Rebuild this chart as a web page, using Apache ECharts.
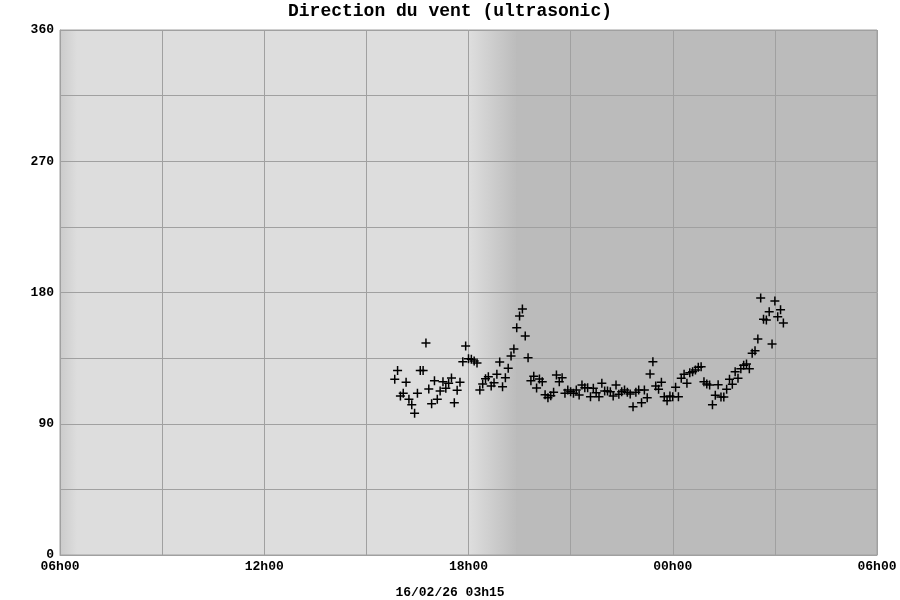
<!DOCTYPE html>
<html>
<head>
<meta charset="utf-8">
<script src="https://cdn.jsdelivr.net/npm/echarts@6/dist/echarts.min.js"></script>
<style>html,body{margin:0;padding:0;background:#fff}#c{width:900px;height:600px}</style>
</head>
<body>
<div id="c"></div>
<script>
const titleText = 'Direction du vent (ultrasonic)';
const dateText = '16/02/26 03h15';
const xTickLabels = ['06h00', '', '12h00', '', '18h00', '', '00h00', '', '06h00'];
const yTickLabels = ['0', '', '90', '', '180', '', '270', '', '360'];
const startTime = '15:50';   // first sample
const stepMinutes = 5;       // sampling interval
const direction = [
  120.5,126.6,109.0,110.9,118.4,106.8,103.1,97.2,110.9,126.6,
  126.6,145.4,113.8,103.7,119.5,106.8,112.5,118.8,114.3,117.7,
  121.4,104.4,112.9,118.4,132.5,143.3,134.6,134.2,133.0,131.7,
  113.1,117.3,120.9,122.3,115.9,118.1,123.9,132.3,115.4,121.6,
  128.0,136.5,141.3,155.9,163.9,168.7,150.2,135.3,119.5,122.5,
  114.5,120.7,118.8,109.9,107.9,
  109.2,111.6,123.4,118.8,121.6,110.9,113.1,112.0,110.9,113.1,
  109.7,116.6,114.7,114.7,108.5,114.3,111.3,108.5,117.7,112.5,
  112.5,112.0,109.0,116.6,110.2,112.0,113.1,111.6,110.4,101.7,
  111.6,113.1,104.4,113.1,107.9,124.1,132.5,115.9,113.6,118.4,
  108.5,105.8,109.0,108.5,115.0,108.5,121.2,123.9,117.7,125.0,
  125.7,126.9,128.7,129.1,118.8,117.3,
  116.6,103.1,109.5,116.8,108.3,108.3,113.6,120.5,117.1,125.7,
  121.2,127.7,130.1,131.0,127.7,138.3,140.1,148.1,176.2,161.6,
  161.1,166.8,144.7,174.2,163.4,168.2,159.1
];

// hours since the 06h00 origin of the axis
function hoursFrom06(hhmm) {
  const [h, m] = hhmm.split(':').map(Number);
  return ((h - 6 + 24) % 24) + m / 60;
}
const t0 = hoursFrom06(startTime);
const points = direction.map((v, i) => [t0 + i * stepMinutes / 60, v]);

const font = 'Liberation Mono, Courier New, monospace';
const day = '#dddddd', night = '#bbbbbb';
const grad = (a, b) => new echarts.graphic.LinearGradient(0, 0, 1, 0, [{offset: 0, color: a}, {offset: 1, color: b}]);
const gridColor = '#a0a0a0';

const chart = echarts.init(document.getElementById('c'), null, {renderer: 'canvas'});
chart.setOption({
  animation: false,
  backgroundColor: '#ffffff',
  title: [
    {text: titleText, left: 'center', top: -3,
     textStyle: {fontFamily: font, fontWeight: 'bold', fontSize: 18, color: '#000'}},
    {text: dateText, left: 'center', top: 581,
     textStyle: {fontFamily: font, fontWeight: 'bold', fontSize: 13, color: '#000'}}
  ],
  grid: {left: 60, right: 23, top: 30, bottom: 45, show: true, borderColor: gridColor, borderWidth: 1, z: 3},
  xAxis: {
    type: 'value', min: 0, max: 24, interval: 3, z: 3,
    axisLine: {show: true, lineStyle: {color: gridColor}},
    axisTick: {show: false},
    splitLine: {show: true, lineStyle: {color: gridColor, width: 1}},
    axisLabel: {
      margin: 5, color: '#000', fontFamily: font, fontWeight: 'bold', fontSize: 13,
      showMinLabel: true, showMaxLabel: true,
      formatter: v => xTickLabels[Math.round(v / 3)] || ''
    }
  },
  yAxis: {
    type: 'value', min: 0, max: 360, interval: 45, z: 3,
    axisLine: {show: true, lineStyle: {color: gridColor}},
    axisTick: {show: false},
    splitLine: {show: true, lineStyle: {color: gridColor, width: 1}},
    axisLabel: {
      margin: 6, color: '#000', fontFamily: font, fontWeight: 'bold', fontSize: 13,
      formatter: v => yTickLabels[Math.round(v / 45)] || ''
    }
  },
  series: [
    {
      type: 'scatter',
      data: [],
      silent: true,
      z: 1,
      markArea: {
        silent: true,
        data: [
          [{xAxis: 0, itemStyle: {color: day}}, {xAxis: 24}],
          [{xAxis: 0, itemStyle: {color: grad('#cbcbcb', day)}}, {xAxis: 0.5}],
          [{xAxis: 12.05, itemStyle: {color: grad(day, night)}}, {xAxis: 13.45}],
          [{xAxis: 13.4, itemStyle: {color: night}}, {xAxis: 24}]
        ]
      }
    },
    {
      type: 'scatter',
      data: points,
      z: 5,
      symbol: 'path://M3.75,0 H5.25 V3.75 H9 V5.25 H5.25 V9 H3.75 V5.25 H0 V3.75 H3.75 Z',
      symbolSize: 9,
      itemStyle: {color: '#000', opacity: 1}
    }
  ]
});
</script>
</body>
</html>
